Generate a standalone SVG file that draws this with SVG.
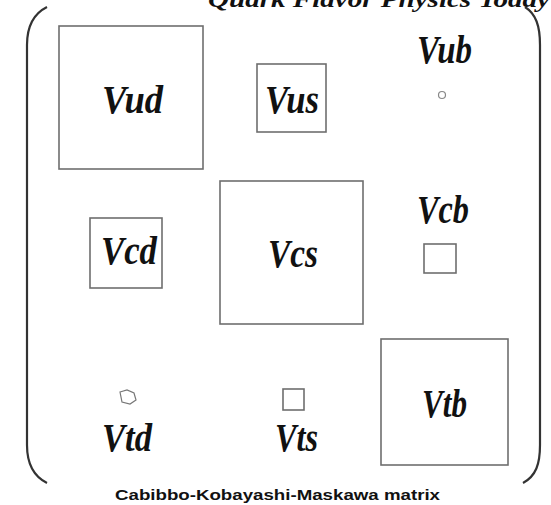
<svg xmlns="http://www.w3.org/2000/svg" width="551" height="505" viewBox="0 0 551 505">
<style>
.box{fill:#fff;stroke:#6e6e6e;stroke-width:1.6}
.lbl{font-family:"Liberation Serif","Times New Roman",serif;font-weight:bold;font-style:italic;font-size:40px;fill:#111}
.br{fill:none;stroke:#333;stroke-width:2.2}
.cap{font-family:"Liberation Sans",Arial,sans-serif;font-weight:bold;font-size:15px;fill:#111}
</style>
<rect width="551" height="505" fill="#fff"/>
<text x="208" y="7" font-family="Liberation Serif,serif" font-weight="bold" font-style="italic" font-size="24" fill="#111" textLength="342" lengthAdjust="spacingAndGlyphs">Quark Flavor Physics Today</text>
<g id="brackets">
<path class="br" d="M47,7 C33,14 27,26 27,45 L27,445 C27,464 33,476 47,483"/>
<path class="br" d="M525,7 C536,14 540,26 540,45 L540,445 C540,464 536,476 523,483"/>
</g>
<g id="Vud"><rect class="box" x="59" y="26" width="144" height="143"/><text class="lbl" x="102" y="113" textLength="61" lengthAdjust="spacingAndGlyphs">Vud</text></g>
<g id="Vus"><rect class="box" x="257" y="64" width="69" height="68"/><text class="lbl" x="265" y="113" textLength="54" lengthAdjust="spacingAndGlyphs">Vus</text></g>
<g id="Vub"><circle cx="442" cy="95" r="3.5" fill="#fff" stroke="#888" stroke-width="1.2"/><text class="lbl" x="417" y="63" textLength="55" lengthAdjust="spacingAndGlyphs">Vub</text></g>
<g id="Vcd"><rect class="box" x="90" y="218" width="72" height="70"/><text class="lbl" x="101" y="264" textLength="56" lengthAdjust="spacingAndGlyphs">Vcd</text></g>
<g id="Vcs"><rect class="box" x="220" y="181" width="143" height="143"/><text class="lbl" x="268" y="267" textLength="50" lengthAdjust="spacingAndGlyphs">Vcs</text></g>
<g id="Vcb"><rect class="box" x="424" y="244" width="32" height="29"/><text class="lbl" x="417" y="223" textLength="52" lengthAdjust="spacingAndGlyphs">Vcb</text></g>
<g id="Vtd"><path d="M120,392 L127,390 L134,393 L136,400 L130,404 L122,402 Z" fill="#fff" stroke="#777" stroke-width="1.2"/><text class="lbl" x="102" y="451" textLength="50" lengthAdjust="spacingAndGlyphs">Vtd</text></g>
<g id="Vts"><rect class="box" x="283" y="389" width="21" height="21"/><text class="lbl" x="275" y="451" textLength="43" lengthAdjust="spacingAndGlyphs">Vts</text></g>
<g id="Vtb"><rect class="box" x="381" y="339" width="127" height="126"/><text class="lbl" x="422" y="417" textLength="45" lengthAdjust="spacingAndGlyphs">Vtb</text></g>
<g id="connectors"/>
<text class="cap" x="115" y="500" textLength="325" lengthAdjust="spacingAndGlyphs">Cabibbo-Kobayashi-Maskawa matrix</text>
</svg>
